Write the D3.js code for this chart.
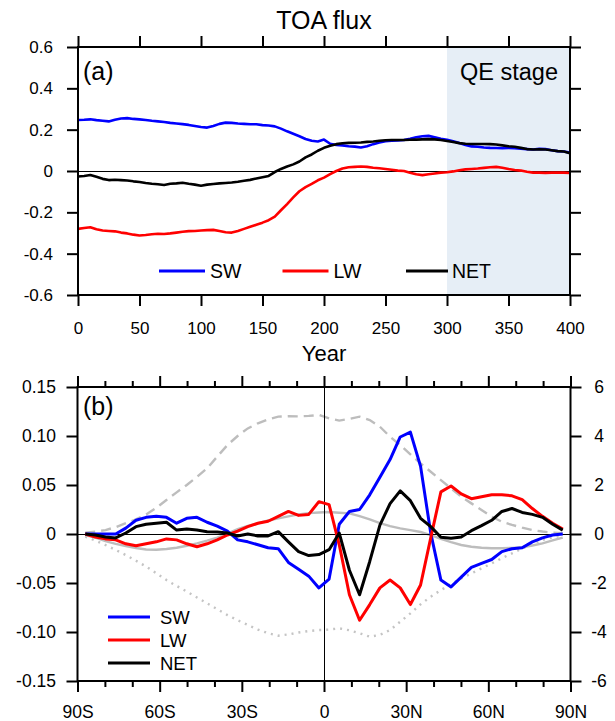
<!DOCTYPE html>
<html>
<head>
<meta charset="utf-8">
<script src="https://cdn.jsdelivr.net/npm/d3@7"></script>
<style>
body { margin: 0; background: #fff; }
svg { display: block; }
</style>
</head>
<body>
<div id="viz"></div>
<script>
var width = 615;
var height = 721;
var font = "'Liberation Sans', Arial, Helvetica, sans-serif";

// ---- data: panel (a), TOA flux anomaly by year (every 5 years)
var years = d3.range(0, 405, 5);
var swTop = [0.247,0.248,0.250,0.246,0.243,0.240,0.248,0.254,0.256,0.252,
	0.250,0.247,0.243,0.240,0.237,0.233,0.230,0.227,0.223,0.218,
	0.213,0.210,0.218,0.228,0.234,0.233,0.230,0.228,0.226,0.226,
	0.222,0.220,0.216,0.205,0.192,0.180,0.168,0.155,0.146,0.143,
	0.152,0.132,0.126,0.124,0.120,0.118,0.114,0.120,0.130,0.138,
	0.144,0.146,0.148,0.150,0.156,0.163,0.168,0.170,0.163,0.156,
	0.151,0.144,0.135,0.126,0.119,0.117,0.114,0.112,0.111,0.110,
	0.112,0.110,0.108,0.106,0.104,0.107,0.106,0.100,0.096,0.094,0.089];
var lwTop = [-0.280,-0.276,-0.272,-0.282,-0.288,-0.290,-0.292,-0.298,-0.302,-0.308,
	-0.312,-0.310,-0.306,-0.304,-0.305,-0.302,-0.298,-0.294,-0.291,-0.290,
	-0.288,-0.286,-0.285,-0.290,-0.296,-0.298,-0.290,-0.280,-0.270,-0.260,
	-0.250,-0.238,-0.221,-0.190,-0.160,-0.128,-0.098,-0.078,-0.062,-0.045,
	-0.032,-0.015,0.000,0.012,0.018,0.020,0.022,0.020,0.016,0.013,
	0.010,0.006,0.002,0.000,-0.008,-0.016,-0.020,-0.016,-0.012,-0.008,
	-0.006,-0.002,0.004,0.008,0.010,0.012,0.015,0.018,0.020,0.016,
	0.010,0.005,0.002,-0.004,-0.008,-0.008,-0.009,-0.008,-0.008,-0.008,-0.010];
var netTop = [-0.027,-0.024,-0.019,-0.028,-0.038,-0.044,-0.042,-0.044,-0.046,-0.050,
	-0.053,-0.058,-0.062,-0.064,-0.068,-0.062,-0.060,-0.057,-0.062,-0.066,
	-0.071,-0.066,-0.063,-0.060,-0.058,-0.056,-0.052,-0.047,-0.043,-0.036,
	-0.030,-0.024,-0.005,0.010,0.022,0.032,0.046,0.066,0.080,0.098,
	0.112,0.122,0.130,0.134,0.136,0.137,0.138,0.141,0.143,0.146,
	0.149,0.150,0.150,0.150,0.151,0.152,0.153,0.154,0.153,0.150,
	0.145,0.140,0.135,0.132,0.131,0.131,0.131,0.130,0.128,0.124,
	0.120,0.117,0.112,0.106,0.104,0.105,0.104,0.100,0.096,0.094,0.086];

// ---- data: panel (b), zonal mean by latitude
var lats = [-87.16,-83.48,-79.78,-76.07,-72.36,-68.65,-64.94,-61.23,-57.52,-53.81,-50.10,-46.39,
	-42.68,-38.97,-35.26,-31.54,-27.83,-24.12,-20.41,-16.70,-12.99,-9.28,-5.57,-1.86,
	1.86,5.57,9.28,12.99,16.70,20.41,24.12,27.83,31.54,35.26,38.97,42.68,
	46.39,50.10,53.81,57.52,61.23,64.94,68.65,72.36,76.07,79.78,83.48,87.16];
var swLat = [0,0,0,0,0.006,0.014,0.017,0.018,0.017,0.011,0.016,0.017,
	0.012,0.008,0.003,-0.006,-0.008,-0.011,-0.014,-0.015,-0.029,-0.036,-0.043,-0.055,
	-0.046,0.010,0.023,0.025,0.040,0.058,0.076,0.099,0.104,0.069,0.001,-0.047,
	-0.054,-0.044,-0.034,-0.030,-0.026,-0.018,-0.015,-0.014,-0.008,-0.004,-0.001,0];
var lwLat = [0,-0.003,-0.005,-0.006,-0.010,-0.012,-0.010,-0.008,-0.005,-0.006,-0.010,-0.013,
	-0.010,-0.006,-0.001,0.003,0.0075,0.011,0.013,0.018,0.023,0.019,0.020,0.033,
	0.030,-0.011,-0.062,-0.088,-0.072,-0.055,-0.047,-0.055,-0.072,-0.052,-0.004,0.043,
	0.049,0.041,0.036,0.038,0.040,0.040,0.039,0.035,0.026,0.018,0.011,0.005];
var netLat = [0,-0.001,-0.003,-0.004,0.001,0.0075,0.010,0.011,0.012,0.004,0.005,0.004,
	0.0024,0.002,0.001,-0.002,0,-0.002,-0.002,0.0024,-0.008,-0.018,-0.022,-0.021,
	-0.016,0.001,-0.037,-0.062,-0.028,0.009,0.031,0.044,0.034,0.016,0.0075,-0.0034,
	-0.0044,-0.003,0.0034,0.0085,0.014,0.023,0.026,0.022,0.020,0.017,0.010,0.004];
// grey reference curves, right axis units
var grayDash = [0.05,0.1,0.16,0.28,0.44,0.6,0.8,1.07,1.39,1.7,2.0,2.33,
	2.68,3.16,3.63,4.0,4.31,4.52,4.68,4.79,4.81,4.8,4.82,4.86,
	4.72,4.63,4.7,4.79,4.65,4.38,3.97,3.63,3.25,2.88,2.54,2.2,
	1.86,1.52,1.25,0.98,0.71,0.5,0.37,0.26,0.16,0.1,0.05,0.03];
var graySolid = [-0.04,-0.15,-0.29,-0.4,-0.49,-0.57,-0.63,-0.64,-0.61,-0.56,-0.48,-0.38,
	-0.27,-0.15,0.02,0.2,0.33,0.44,0.55,0.64,0.72,0.8,0.85,0.88,
	0.9,0.87,0.84,0.73,0.6,0.44,0.32,0.23,0.16,0.08,-0.05,-0.2,
	-0.33,-0.45,-0.52,-0.56,-0.58,-0.58,-0.57,-0.54,-0.47,-0.38,-0.26,-0.15];
var grayDot = [-0.11,-0.27,-0.45,-0.65,-0.86,-1.09,-1.33,-1.6,-1.88,-2.12,-2.35,-2.59,
	-2.83,-3.07,-3.31,-3.52,-3.71,-3.9,-4.05,-4.15,-4.1,-4.02,-3.96,-3.92,
	-3.9,-3.85,-3.93,-4.05,-4.19,-4.12,-3.92,-3.58,-3.24,-2.87,-2.56,-2.29,
	-2.05,-1.81,-1.61,-1.4,-1.2,-0.99,-0.79,-0.59,-0.42,-0.24,-0.14,-0.07];

var names = ["SW", "LW", "NET"];
var colors = ["#0000ff", "#ff0000", "#000000"];

var yearTicks = [0,50,100,150,200,250,300,350,400];
var topYTicks = [-0.6,-0.4,-0.2,0,0.2,0.4,0.6];
var topYLabels = ["-0.6","-0.4","-0.2","0","0.2","0.4","0.6"];
var latTicks = [-90,-60,-30,0,30,60,90];
var latLabels = ["90S","60S","30S","0","30N","60N","90N"];
var latMinor = [-80,-70,-50,-40,-20,-10,10,20,40,50,70,80];
var botYTicks = [-0.15,-0.10,-0.05,0,0.05,0.10,0.15];
var botYLabels = ["-0.15","-0.10","-0.05","0","0.05","0.10","0.15"];
var botRTicks = [-6,-4,-2,0,2,4,6];
var botRLabels = ["-6","-4","-2","0","2","4","6"];

var canvas = d3.select('#viz')
	.append('svg')
	.attr("width", width)
	.attr("height", height);

// scales
var xTop = d3.scaleLinear().domain([0, 400]).range([78, 570]);
var yTop = d3.scaleLinear().domain([-0.6, 0.6]).range([295, 47]);
var xBot = d3.scaleLinear().domain([-90, 90]).range([77.5, 570.5]);
var yBot = d3.scaleLinear().domain([-0.15, 0.15]).range([681, 387]);
var yBotR = d3.scaleLinear().domain([-6, 6]).range([681, 387]);

function styleAxis(g, fontSize) {
	g.select(".domain").remove();
	g.selectAll("line").attr("stroke-width", 2);
	g.attr("font-family", font).attr("font-size", fontSize);
	g.selectAll("text").attr("fill", "#000");
}

function addAxis(axis, tx, ty, fontSize) {
	var g = canvas.append("g")
		.attr("transform", "translate(" + tx + "," + ty + ")")
		.call(axis);
	styleAxis(g, fontSize);
	return g;
}

// ================= panel (a) =================
canvas.append("rect")
	.attr("x", xTop(300))
	.attr("y", yTop(0.6))
	.attr("width", xTop(400) - xTop(300))
	.attr("height", yTop(-0.6) - yTop(0.6))
	.attr("fill", "#e6eef6");

canvas.append("line")
	.attr("x1", xTop(0)).attr("x2", xTop(400))
	.attr("y1", Math.round(yTop(0)) + 0.5).attr("y2", Math.round(yTop(0)) + 0.5)
	.attr("stroke", "#000").attr("stroke-width", 1)
	.attr("shape-rendering", "crispEdges");

var topSeries = [swTop, lwTop, netTop];
var lineTop = d3.line()
	.x(function(d, i) { return xTop(years[i]); })
	.y(function(d) { return yTop(d); });

canvas.append("g")
	.selectAll("path")
	.data(topSeries)
	.enter()
		.append("path")
		.attr("d", lineTop)
		.attr("fill", "none")
		.attr("stroke", function(d, i) { return colors[i]; })
		.attr("stroke-width", 2.6)
		.attr("stroke-linejoin", "round");

// axes (a)
addAxis(d3.axisBottom(xTop).tickValues(yearTicks).tickSize(11).tickSizeOuter(0)
	.tickPadding(16).tickFormat(d3.format("d")), 0, 295, 17);
addAxis(d3.axisTop(xTop).tickValues(yearTicks).tickSize(11).tickSizeOuter(0)
	.tickFormat(""), 0, 47, 17);
addAxis(d3.axisLeft(yTop).tickValues(topYTicks).tickSize(11).tickSizeOuter(0)
	.tickPadding(14).tickFormat(function(d, i) { return topYLabels[i]; }), 78, 0, 17);
addAxis(d3.axisRight(yTop).tickValues(topYTicks).tickSize(11).tickSizeOuter(0)
	.tickFormat(""), 570, 0, 17);

canvas.append("rect")
	.attr("x", 78).attr("y", 47)
	.attr("width", 570 - 78).attr("height", 295 - 47)
	.attr("fill", "none").attr("stroke", "#000").attr("stroke-width", 2);

canvas.append("text")
	.attr("x", 324).attr("y", 29)
	.attr("text-anchor", "middle")
	.attr("font-family", font).attr("font-size", 25)
	.text("TOA flux");

canvas.append("text")
	.attr("x", 83).attr("y", 80)
	.attr("font-family", font).attr("font-size", 25)
	.text("(a)");

canvas.append("text")
	.attr("x", 558).attr("y", 80)
	.attr("text-anchor", "end")
	.attr("font-family", font).attr("font-size", 23.5)
	.text("QE stage");

canvas.append("text")
	.attr("x", 324).attr("y", 361)
	.attr("text-anchor", "middle")
	.attr("font-family", font).attr("font-size", 22)
	.text("Year");

var legTop = canvas.append("g")
	.selectAll("g")
	.data(names)
	.enter()
		.append("g")
		.attr("transform", function(d, i) { return "translate(" + (159 + i * 123.5) + ",271)"; });
legTop.append("line")
	.attr("x1", 0).attr("x2", function(d, i) { return i == 2 ? 42 : 46; })
	.attr("stroke", function(d, i) { return colors[i]; })
	.attr("stroke-width", 3.2);
legTop.append("text")
	.attr("x", function(d, i) { return i == 2 ? 46 : 51; })
	.attr("dy", "0.36em")
	.attr("font-family", font).attr("font-size", 19.5)
	.text(function(d) { return d; });

// ================= panel (b) =================
var lineGray = d3.line()
	.x(function(d, i) { return xBot(lats[i]); })
	.y(function(d) { return yBotR(d); });

canvas.append("path")
	.attr("d", lineGray(grayDash))
	.attr("fill", "none").attr("stroke", "#bdbdbd")
	.attr("stroke-width", 2.4).attr("stroke-dasharray", "10,6");
canvas.append("path")
	.attr("d", lineGray(graySolid))
	.attr("fill", "none").attr("stroke", "#bdbdbd")
	.attr("stroke-width", 2.4);
canvas.append("path")
	.attr("d", lineGray(grayDot))
	.attr("fill", "none").attr("stroke", "#c4c4c4")
	.attr("stroke-width", 2.4).attr("stroke-dasharray", "2,5");

canvas.append("line")
	.attr("x1", xBot(-90)).attr("x2", xBot(90))
	.attr("y1", yBot(0) + 0.5).attr("y2", yBot(0) + 0.5)
	.attr("stroke", "#000").attr("stroke-width", 1)
	.attr("shape-rendering", "crispEdges");
canvas.append("line")
	.attr("x1", Math.round(xBot(0)) + 0.5).attr("x2", Math.round(xBot(0)) + 0.5)
	.attr("y1", yBot(0.15)).attr("y2", yBot(-0.15))
	.attr("stroke", "#000").attr("stroke-width", 1)
	.attr("shape-rendering", "crispEdges");

var lineBot = d3.line()
	.x(function(d, i) { return xBot(lats[i]); })
	.y(function(d) { return yBot(d); });

canvas.append("g")
	.selectAll("path")
	.data([swLat, lwLat, netLat])
	.enter()
		.append("path")
		.attr("d", lineBot)
		.attr("fill", "none")
		.attr("stroke", function(d, i) { return colors[i]; })
		.attr("stroke-width", 3)
		.attr("stroke-linejoin", "round");

// axes (b)
addAxis(d3.axisBottom(xBot).tickValues(latTicks).tickSize(11).tickSizeOuter(0)
	.tickPadding(14).tickFormat(function(d, i) { return latLabels[i]; }), 0, 681, 17.5);
addAxis(d3.axisBottom(xBot).tickValues(latMinor).tickSize(6).tickSizeOuter(0)
	.tickFormat(""), 0, 681, 17.5);
addAxis(d3.axisTop(xBot).tickValues(latTicks).tickSize(11).tickSizeOuter(0)
	.tickFormat(""), 0, 387, 17.5);
addAxis(d3.axisTop(xBot).tickValues(latMinor).tickSize(6).tickSizeOuter(0)
	.tickFormat(""), 0, 387, 17.5);
addAxis(d3.axisLeft(yBot).tickValues(botYTicks).tickSize(11).tickSizeOuter(0)
	.tickPadding(10.5).tickFormat(function(d, i) { return botYLabels[i]; }), 77.5, 0, 17.5);
var rAx = addAxis(d3.axisRight(yBotR).tickValues(botRTicks).tickSize(11).tickSizeOuter(0)
	.tickPadding(17.5).tickFormat(function(d, i) { return botRLabels[i]; }), 570.5, 0, 17.5);
rAx.selectAll("text").attr("text-anchor", "middle").attr("x", 28.5);

canvas.append("rect")
	.attr("x", 77.5).attr("y", 387)
	.attr("width", 570.5 - 77.5).attr("height", 681 - 387)
	.attr("fill", "none").attr("stroke", "#000").attr("stroke-width", 2);

canvas.append("text")
	.attr("x", 83).attr("y", 415)
	.attr("font-family", font).attr("font-size", 25)
	.text("(b)");

var legBot = canvas.append("g")
	.selectAll("g")
	.data(names)
	.enter()
		.append("g")
		.attr("transform", function(d, i) { return "translate(108," + (617 + i * 23) + ")"; });
legBot.append("line")
	.attr("x1", 0).attr("x2", 42)
	.attr("stroke", function(d, i) { return colors[i]; })
	.attr("stroke-width", 3.2);
legBot.append("text")
	.attr("x", 52)
	.attr("dy", "0.36em")
	.attr("font-family", font).attr("font-size", 18.5)
	.text(function(d) { return d; });
</script>
</body>
</html>
